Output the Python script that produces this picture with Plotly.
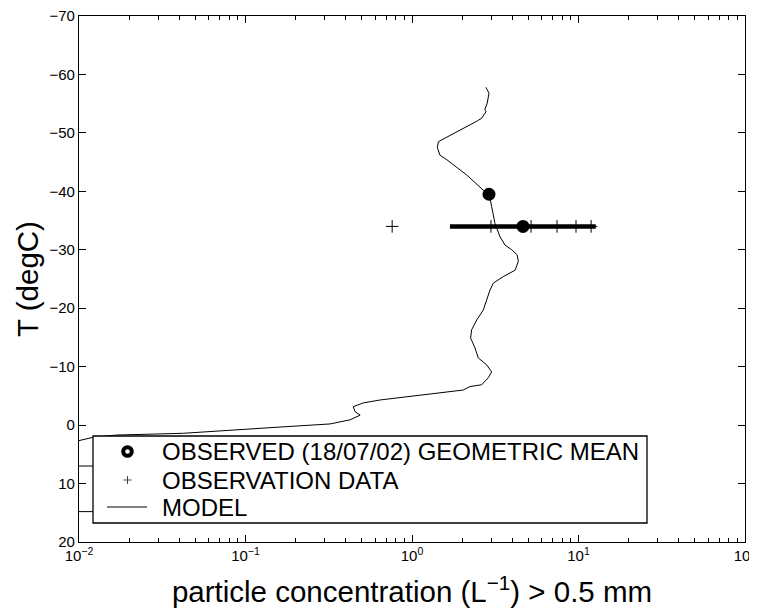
import plotly.graph_objects as go

# ---- data ----
model_T = [-57.8, -56.8, -55.1, -54.0, -53.6, -52.5, -52.0, -50.5, -49.2, -48.5,
           -47.5, -46.2, -45.4, -42.8, -40.2, -39.5, -37.4, -34.5, -32.2, -30.8,
           -30.0, -29.1, -28.0, -26.5, -25.4, -24.3, -23.1, -21.1, -19.7, -18.0,
           -16.3, -14.9, -13.2, -11.5, -10.3, -9.1, -8.1, -6.9, -6.6, -6.0,
           -5.3, -4.3, -3.8, -3.15, -2.3, -1.7, -0.9, -0.2, 0.3, 1.4,
           1.7, 2.1, 2.65, 2.8, 3.0, 7.0, 7.0, 14.8, 14.8, 20.0]
model_x = [2.78, 2.90, 2.83, 2.74, 2.78, 2.62, 2.45, 1.94, 1.58, 1.44,
           1.42, 1.47, 1.62, 2.13, 2.68, 2.90, 3.01, 3.15, 3.38, 3.62,
           3.97, 4.29, 4.35, 4.16, 3.53, 3.08, 2.94, 2.78, 2.68, 2.45,
           2.28, 2.25, 2.39, 2.50, 2.81, 3.01, 2.87, 2.62, 2.23, 2.03,
           1.28, 0.643, 0.51, 0.444, 0.455, 0.488, 0.424, 0.322, 0.168, 0.0423,
           0.0168, 0.0121, 0.0100, 0.003, 0.0001, 0.0001, 0.03, 0.03, 0.0001, 0.0001]

geomean_x = [2.9, 4.64]
geomean_T = [-39.5, -34.0]

obs_x = [0.76, 2.98, 5.19, 7.43, 9.66, 11.9]
obs_T = [-34.0, -34.0, -34.0, -34.0, -34.0, -34.0]

range_x = [1.69, 12.7]
range_T = [-34.0, -34.0]

x_tickvals = [0.01, 0.1, 1, 10, 100]
x_ticktext = ["10<sup>−2</sup>", "10<sup>−1</sup>", "10<sup>0</sup>",
              "10<sup>1</sup>", "10<sup>2</sup>"]
y_tickvals = [-70, -60, -50, -40, -30, -20, -10, 0, 10, 20]

legend_labels = ["OBSERVED (18/07/02) GEOMETRIC MEAN", "OBSERVATION DATA", "MODEL"]

FONT = "Liberation Sans, Arial, Helvetica, sans-serif"

# ---- layout geometry (page pixels; the page body adds an 8 px offset) ----
OFF = 8
W, H = 757 - OFF, 609 - OFF
PL, PR, PT, PB = 79, 745, 16, 542          # plot box in page pixels
ML, MT = PL - OFF, PT - OFF
MR, MB = W - (PR - OFF), H - (PB - OFF)
PW, PH = PR - PL, PB - PT


def px(xp):
    return (xp - PL) / PW


def py(yp):
    return (PB - yp) / PH


fig = go.Figure()

fig.add_trace(go.Scatter(
    x=model_x, y=model_T, mode="lines", name=legend_labels[2],
    line=dict(color="black", width=1), showlegend=False))

fig.add_trace(go.Scatter(
    x=range_x, y=range_T, mode="lines", showlegend=False,
    line=dict(color="black", width=4.5)))

fig.add_trace(go.Scatter(
    x=obs_x, y=obs_T, mode="markers", name=legend_labels[1], showlegend=False,
    marker=dict(symbol="cross-thin-open", size=9, color="black",
                line=dict(width=1, color="#555"))))

fig.add_trace(go.Scatter(
    x=geomean_x, y=geomean_T, mode="markers", name=legend_labels[0],
    showlegend=False,
    marker=dict(symbol="circle", size=13, color="black", line=dict(width=0))))

# ---- hand-drawn legend (box, symbols, labels) ----
box = dict(x0=93, x1=647, y0=436, y1=523)
rows_y = [451.5, 480, 507]
sym_x = 127.5
text_x = 160

shapes = [
    dict(type="rect", xref="paper", yref="paper", layer="above",
         x0=px(box["x0"]), x1=px(box["x1"]), y0=py(box["y1"]), y1=py(box["y0"]),
         fillcolor="white", line=dict(color="black", width=1.3)),
    dict(type="circle", xref="paper", yref="paper", layer="above",
         xsizemode="pixel", ysizemode="pixel",
         xanchor=px(sym_x), yanchor=py(rows_y[0]),
         x0=-4.3, x1=4.3, y0=-4.3, y1=4.3,
         fillcolor="white", line=dict(color="black", width=4)),
    dict(type="line", xref="paper", yref="paper", layer="above",
         xsizemode="pixel", ysizemode="pixel",
         xanchor=px(sym_x), yanchor=py(rows_y[1]),
         x0=-4, x1=4, y0=0, y1=0, line=dict(color="#444", width=1)),
    dict(type="line", xref="paper", yref="paper", layer="above",
         xsizemode="pixel", ysizemode="pixel",
         xanchor=px(sym_x), yanchor=py(rows_y[1]),
         x0=0, x1=0, y0=-4, y1=4, line=dict(color="#444", width=1)),
    dict(type="line", xref="paper", yref="paper", layer="above",
         x0=px(107), x1=px(147), y0=py(rows_y[2]), y1=py(rows_y[2]),
         line=dict(color="black", width=1)),
]

annotations = [
    dict(text=lab, xref="paper", yref="paper", x=px(text_x), y=py(yy),
         xanchor="left", yanchor="middle", showarrow=False,
         font=dict(size=24, family=FONT, color="black"))
    for lab, yy in zip(legend_labels, rows_y)
]

fig.update_layout(
    width=W, height=H,
    margin=dict(l=ML, r=MR, t=MT, b=MB, pad=0),
    paper_bgcolor="white", plot_bgcolor="white",
    font=dict(family=FONT, color="black", size=15),
    showlegend=False,
    shapes=shapes, annotations=annotations,
)

fig.update_xaxes(
    type="log", range=[-2, 2],
    tickvals=x_tickvals, ticktext=x_ticktext,
    ticks="inside", ticklen=7, tickwidth=1, tickcolor="black",
    minor=dict(ticks="inside", ticklen=4, tickwidth=1, tickcolor="black",
               dtick="D1", showgrid=False),
    showline=True, linecolor="black", linewidth=1.3, mirror="allticks",
    showgrid=False, zeroline=False, automargin=False,
    ticklabeloverflow="allow",
    tickfont=dict(size=15, family=FONT),
    title=dict(text="particle concentration (L<sup>−1</sup>) > 0.5 mm",
               font=dict(size=29.5, family=FONT), standoff=18),
)

fig.update_yaxes(
    range=[20, -70], tickvals=y_tickvals,
    ticks="inside", ticklen=7, tickwidth=1, tickcolor="black",
    showline=True, linecolor="black", linewidth=1.3, mirror="allticks",
    showgrid=False, zeroline=False, automargin=False,
    ticklabeloverflow="allow",
    tickfont=dict(size=15, family=FONT),
    title=dict(text="T (degC)", font=dict(size=29.5, family=FONT), standoff=2),
)

fig.write_html("out.html")
